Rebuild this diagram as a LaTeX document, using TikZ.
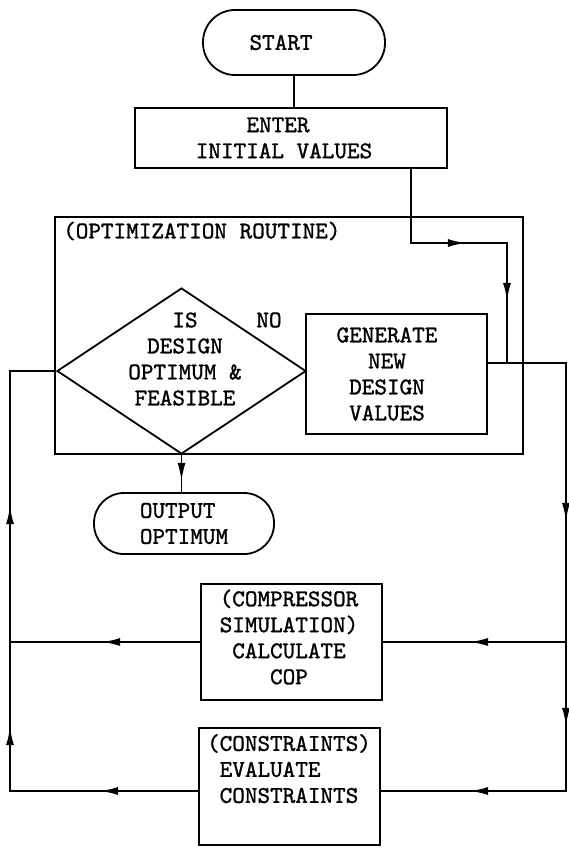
\documentclass[tikz,border=0pt]{standalone}
\usetikzlibrary{shapes.geometric,arrows.meta,decorations.markings}
% typewriter face, slightly heavier
\font\twf="[lmmono10-regular.otf]:embolden=1.2" at 24pt
\newcommand\nodefont{\twf\baselineskip=26pt\relax}
\begin{document}
\begin{tikzpicture}[x=1pt,y=-1pt,
  every node/.style={font=\nodefont, inner sep=0pt},
  line/.style={line width=1.8pt},
  box/.style={draw, rectangle, line width=1.8pt},
  term/.style={draw, rectangle, line width=1.8pt, rounded corners=32pt},
  >={Latex[length=18pt,width=8pt]},
  arrowat/.style={postaction={decorate,decoration={markings,mark=at position #1 with {\arrow{>}}}}}]

% page
\fill[white] (0,0) rectangle (568,848);
\path[use as bounding box] (0,0) rectangle (568,848);

% terminals and process boxes
\node[term, minimum width=182pt, minimum height=65pt] (start) at (294,42.5) {START\kern26pt};
\node[box, minimum width=312pt, minimum height=60pt, align=center] (enter) at (291,138)
  {ENTER\kern26pt\\INITIAL VALUES\kern14pt};

% optimization routine frame
\node[box, minimum width=468pt, minimum height=237pt] (opt) at (289,335.5) {};
\node[anchor=west] (optlabel) at (63,231) {(OPTIMIZATION ROUTINE)};

% decision
\node[draw, diamond, line width=1.8pt, minimum width=249pt, minimum height=166pt] (dec) at (181.5,371) {};
\node[align=center] (dectext) at (185,359) {IS\\DESIGN\\OPTIMUM \&\\FEASIBLE};
\node (no) at (269,320) {NO};

% new design values
\node[box, minimum width=181pt, minimum height=120pt] (gen) at (396.5,374) {};
\node[align=center] (gentext) at (387,374) {GENERATE\\NEW\\DESIGN\\VALUES};

% output
\node[term, rounded corners=30pt, minimum width=180pt, minimum height=61pt, align=left] (out) at (184,523.5)
  {OUTPUT\\OPTIMUM};

% compressor simulation
\node[box, minimum width=181pt, minimum height=116pt] (calc) at (291.5,642) {};
\node[align=center] (calctext) at (289,637) {(COMPRESSOR\\SIMULATION)\\CALCULATE\\COP};

% constraints
\node[box, minimum width=181pt, minimum height=117pt] (cons) at (289.5,786.5) {};
\node[align=left] (constext) at (289,769.5) {(CONSTRAINTS)\\\phantom{(}EVALUATE\\\phantom{(}CONSTRAINTS};

% connector corners
\coordinate (j0) at (411,243);
\coordinate (j1) at (507,243);
\coordinate (j2) at (507,363);
\coordinate (rt) at (566,363);
\coordinate (rb) at (566,791);
\coordinate (lb) at (10,791);
\coordinate (lt) at (10,371);

% connectors
\draw[line] (start.south) -- (start.south |- enter.north);
\draw[line, arrowat=129pt, arrowat=228pt] (enter.south -| j0) -- (j0) -- (j1) -- (j2);
\draw[line, arrowat=236pt, arrowat=441pt, arrowat=602pt] (gen.east |- j2) -- (rt) -- (rb) -- (rb -| cons.east);
\draw[line, arrowat=96pt] (rt |- calc.east) -- (calc.east);
\draw[line, arrowat=98pt] (calc.west) -- (lb |- calc.west);
\draw[line, arrowat=98pt, arrowat=252pt, arrowat=473pt] (lb -| cons.west) -- (lb) -- (lt) -- (dec.west);
\draw[line, arrowat=26pt] (dec.south) -- (dec.south |- out.north);
\end{tikzpicture}
\end{document}
